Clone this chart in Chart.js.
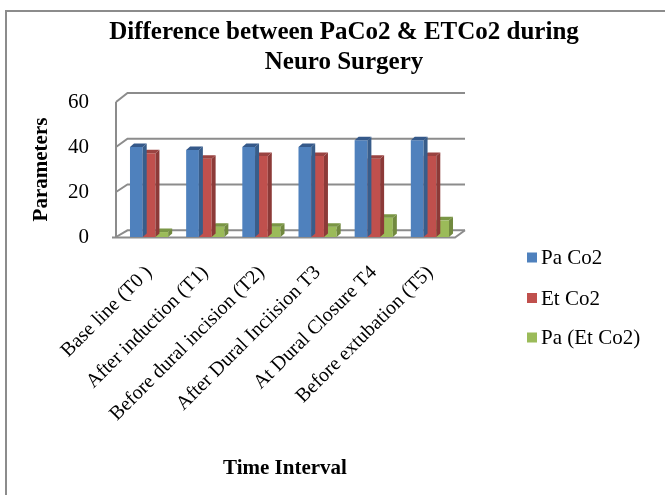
<!DOCTYPE html>
<html>
<head>
<meta charset="utf-8">
<script src="https://cdn.jsdelivr.net/npm/chart.js@4.4.1/dist/chart.umd.min.js"></script>
<style>
  html, body { margin: 0; padding: 0; background: #ffffff; }
  #wrap { width: 665px; height: 495px; position: relative; }
</style>
</head>
<body>
<div id="wrap"><canvas id="c"></canvas></div>
<script>
const categories = ['Base line (T0 )', 'After induction (T1)', 'Before dural incision (T2)', 'After Dural Inciision T3', 'At Dural Closure T4', 'Before extubation (T5)'];
const seriesNames = ['Pa Co2', 'Et Co2', 'Pa (Et Co2)'];
const paCo2 = [40, 38.7, 40, 40, 43, 43];
const etCo2 = [37.2, 34.8, 36, 36, 34.8, 36];
const paEtDiff = [2.2, 4.6, 4.6, 4.6, 8.6, 7.4];
const yTicks = [0, 20, 40, 60];
const titleLines = ['Difference between PaCo2 & ETCo2 during', 'Neuro Surgery'];
const xTitle = 'Time Interval';
const yTitle = 'Parameters';

const FONT = "'Liberation Serif', 'Times New Roman', serif";
const frontColors = ['#4F81BD', '#C0504D', '#9BBB59'];
const sideColors = ['#385D8A', '#8C3A38', '#71893F'];
const topColors = ['#35598A', '#9A4341', '#7A9645'];
const DX = 4, DY = 3.5;

const threeD = {
  id: 'threeD',
  beforeDatasetsDraw(chart) {
    const ctx = chart.ctx;
    const y = chart.scales.y;
    const area = chart.chartArea;
    const fl = area.left - 5;
    const fr = area.right - 3;
    const bdx = 11.5;
    ctx.save();
    ctx.strokeStyle = '#8c8c8c';
    ctx.lineWidth = 2;
    ctx.lineCap = 'butt';
    yTicks.forEach(v => {
      const py = y.getPixelForValue(v);
      const dy = 6.7 + (v / 60) * 2.3;
      ctx.beginPath();
      ctx.moveTo(fl, py);
      ctx.lineTo(fl + bdx, py - dy);
      ctx.lineTo(area.right + 7, py - dy);
      ctx.stroke();
    });
    ctx.beginPath();
    ctx.moveTo(fl, y.getPixelForValue(0) + 1);
    ctx.lineTo(fl, y.getPixelForValue(60));
    ctx.stroke();
    const p0 = y.getPixelForValue(0);
    ctx.beginPath();
    ctx.moveTo(fl - 4, p0 + 0.5);
    ctx.lineTo(fr, p0 + 0.5);
    ctx.lineTo(area.right + 7, p0 - 6.7);
    ctx.stroke();
    ctx.restore();
  },
  afterDatasetDraw(chart, args) {
    const ctx = chart.ctx;
    const i = args.index;
    ctx.save();
    args.meta.data.forEach(bar => {
      const p = bar.getProps(['x', 'y', 'base', 'width'], true);
      const x1 = p.x - p.width / 2, x2 = p.x + p.width / 2;
      const top = p.y, bot = p.base;
      ctx.fillStyle = sideColors[i];
      ctx.beginPath();
      ctx.moveTo(x2, top);
      ctx.lineTo(x2 + DX, top - DY);
      ctx.lineTo(x2 + DX, bot - DY);
      ctx.lineTo(x2, bot);
      ctx.closePath();
      ctx.fill();
      ctx.fillStyle = topColors[i];
      ctx.beginPath();
      ctx.moveTo(x1, top);
      ctx.lineTo(x1 + DX, top - DY);
      ctx.lineTo(x2 + DX, top - DY);
      ctx.lineTo(x2, top);
      ctx.closePath();
      ctx.fill();
    });
    ctx.restore();
  },
  afterDraw(chart) {
    const ctx = chart.ctx;
    ctx.save();
    ctx.strokeStyle = '#8c8c8c';
    ctx.lineWidth = 2;
    ctx.beginPath();
    ctx.moveTo(6, 495);
    ctx.lineTo(6, 11);
    ctx.lineTo(665, 11);
    ctx.stroke();
    ctx.fillStyle = '#000';
    ctx.textAlign = 'center';
    ctx.textBaseline = 'middle';
    ctx.font = 'bold 25px ' + FONT;
    ctx.fillText(titleLines[0], 344, 33);
    ctx.fillText(titleLines[1], 344, 63);
    ctx.font = 'bold 21px ' + FONT;
    ctx.fillText(xTitle, 285, 469);
    ctx.textAlign = 'left';
    ctx.font = '21px ' + FONT;
    const ly = [257.5, 298, 337.5];
    seriesNames.forEach((n, k) => {
      ctx.fillStyle = frontColors[k];
      ctx.fillRect(527, ly[k] - 5, 10, 10);
      ctx.fillStyle = '#000';
      ctx.fillText(n, 541, ly[k] + 1);
    });
    ctx.restore();
  }
};

const datasets = [paCo2, etCo2, paEtDiff].map((d, k) => ({
  label: seriesNames[k],
  data: d,
  backgroundColor: frontColors[k],
  borderWidth: 0,
  barPercentage: 1,
  categoryPercentage: 0.68
}));

new Chart(document.getElementById('c'), {
  type: 'bar',
  data: { labels: categories, datasets },
  options: {
    responsive: true,
    maintainAspectRatio: false,
    animation: false,
    devicePixelRatio: 1,
    layout: { padding: { top: 102, left: 0, right: 207, bottom: 58 } },
    plugins: { legend: { display: false }, title: { display: false }, tooltip: { enabled: false } },
    scales: {
      x: {
        grid: { display: false },
        border: { display: false },
        ticks: {
          autoSkip: false, maxRotation: 45, minRotation: 45,
          padding: 16, color: '#000',
          font: { family: FONT, size: 20 }
        },
        afterFit(s) { s.height = 200; }
      },
      y: {
        min: 0, max: 60,
        grid: { display: false },
        border: { display: false },
        ticks: { stepSize: 20, padding: 24, color: '#000', font: { family: FONT, size: 21 } },
        title: { display: true, text: yTitle, color: '#000', font: { family: FONT, size: 21, weight: 'bold' }, padding: { top: 29, bottom: 0 } },
        afterFit(s) { s.width = 121; }
      }
    }
  },
  plugins: [threeD]
});
</script>
</body>
</html>
